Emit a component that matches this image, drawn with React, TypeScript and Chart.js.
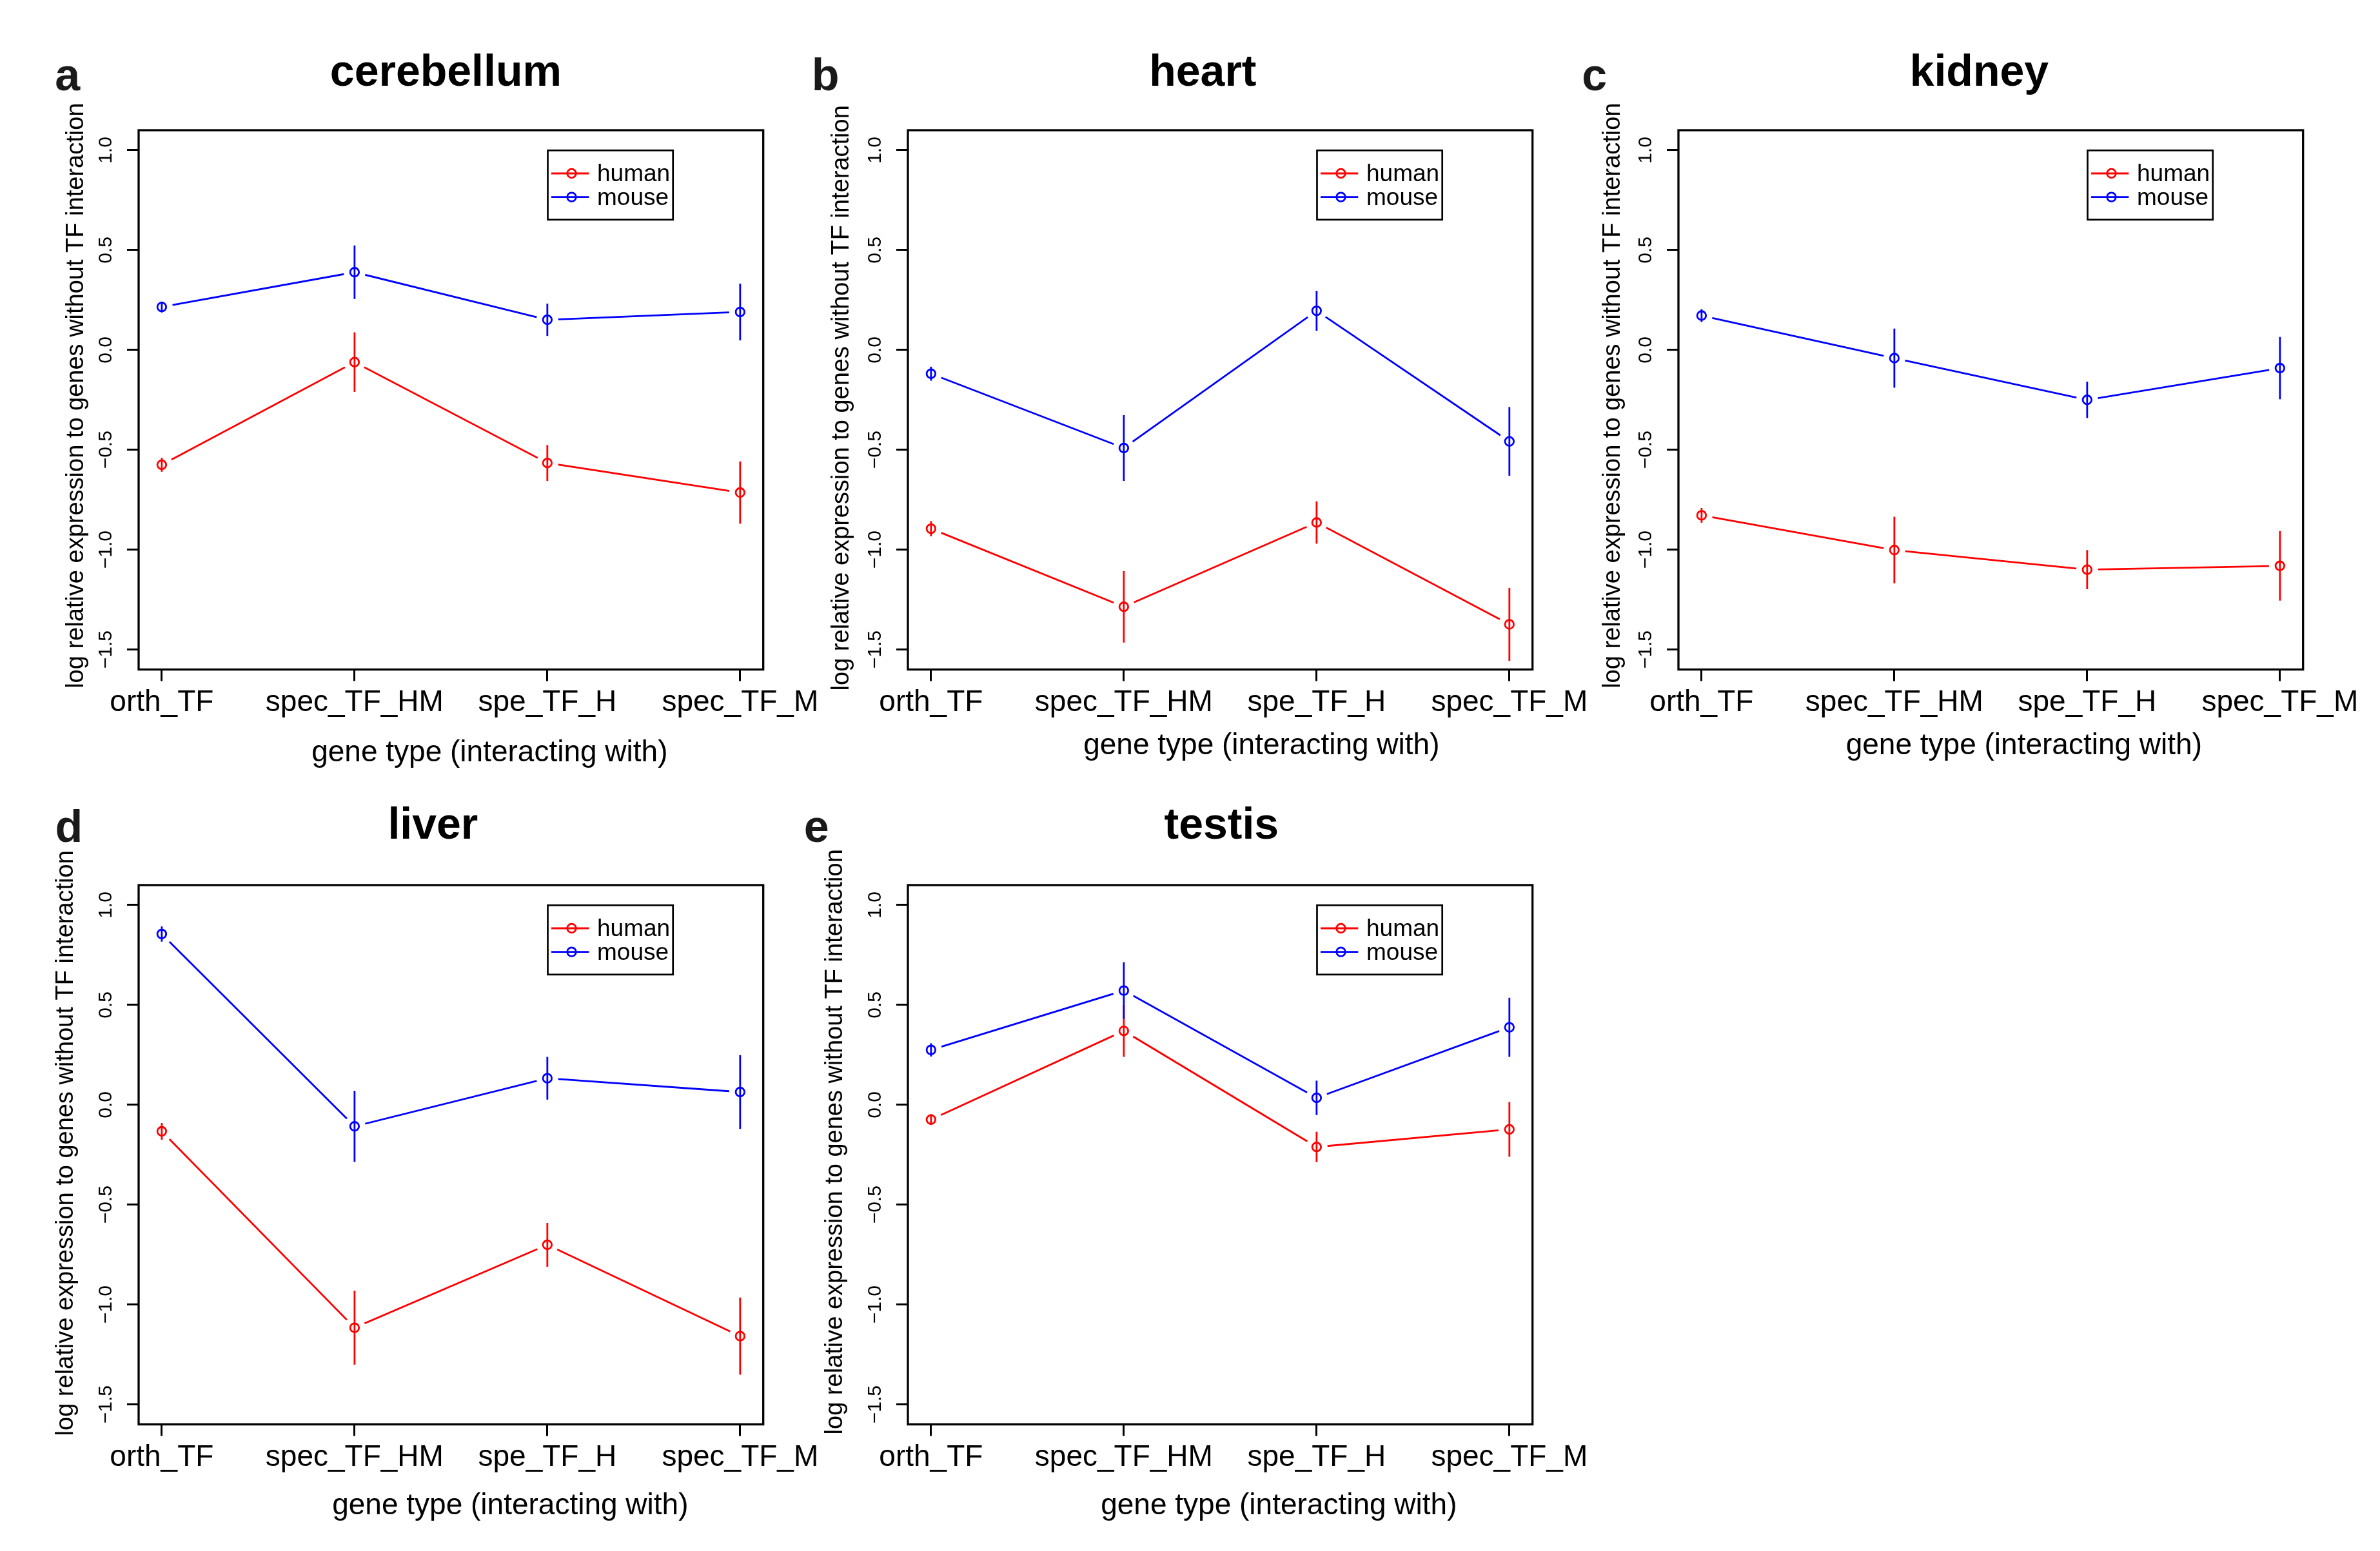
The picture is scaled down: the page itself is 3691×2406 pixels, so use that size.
import React, { useEffect, useRef } from "react";
import { Chart, registerables } from "chart.js";

Chart.register(...registerables);

// ---------- data ----------
const categories = ["orth_TF", "spec_TF_HM", "spe_TF_H", "spec_TF_M"];
const yTickValues = [-1.5, -1.0, -0.5, 0.0, 0.5, 1.0];
const yTickLabels = ["\u22121.5", "\u22121.0", "\u22120.5", "0.0", "0.5", "1.0"];
const seriesNames = ["human", "mouse"];
const xAxisTitle = "gene type (interacting with)";
const yAxisTitle = "log relative expression to genes without TF interaction";

const cerebellumHuman = [-0.575, -0.061, -0.566, -0.714];
const cerebellumHumanErr = [0.035, 0.149, 0.09, 0.156];
const cerebellumMouse = [0.215, 0.389, 0.151, 0.19];
const cerebellumMouseErr = [0.027, 0.134, 0.081, 0.142];

const heartHuman = [-0.895, -1.286, -0.864, -1.374];
const heartHumanErr = [0.038, 0.179, 0.106, 0.183];
const heartMouse = [-0.119, -0.491, 0.196, -0.458];
const heartMouseErr = [0.035, 0.165, 0.1, 0.172];

const kidneyHuman = [-0.828, -1.002, -1.1, -1.081];
const kidneyHumanErr = [0.037, 0.167, 0.098, 0.174];
const kidneyMouse = [0.172, -0.041, -0.25, -0.091];
const kidneyMouseErr = [0.032, 0.148, 0.091, 0.156];

const liverHuman = [-0.133, -1.116, -0.701, -1.158];
const liverHumanErr = [0.042, 0.185, 0.11, 0.193];
const liverMouse = [0.855, -0.108, 0.133, 0.064];
const liverMouseErr = [0.038, 0.178, 0.107, 0.185];

const testisHuman = [-0.074, 0.37, -0.211, -0.123];
const testisHumanErr = [0.027, 0.13, 0.076, 0.137];
const testisMouse = [0.275, 0.572, 0.035, 0.388];
const testisMouseErr = [0.033, 0.142, 0.086, 0.148];

// ---------- layout / style ----------
const FONT = '"Liberation Sans", Arial, Helvetica, sans-serif';
const RED = "#ff0000";
const BLUE = "#0000ff";
const CW = 1330;
const CH = 1240;
const AREA_L = 215;
const AREA_T = 202;
const AREA_W = 968.7;
const AREA_H = 836.6;
const LW = 2.8;

const panels = [
  { letter: "a", title: "cerebellum", human: cerebellumHuman, humanErr: cerebellumHumanErr, mouse: cerebellumMouse, mouseErr: cerebellumMouseErr,
    left: 0, top: 0, titleDx: -8, titleRise: 69.2, letterDx: 129.7, letterRise: 61.8, yTitleDx: 96, yTitleDy: -6.6, xTitleDx: 60, xTitleDrop: 142.7 },
  { letter: "b", title: "heart", human: heartHuman, humanErr: heartHumanErr, mouse: heartMouse, mouseErr: heartMouseErr,
    left: 1193.4, top: 0, titleDx: -27, titleRise: 69.2, letterDx: 149.3, letterRise: 61.9, yTitleDx: 102, yTitleDy: -3, xTitleDx: 64, xTitleDrop: 131.5 },
  { letter: "c", title: "kidney", human: kidneyHuman, humanErr: kidneyHumanErr, mouse: kidneyMouse, mouseErr: kidneyMouseErr,
    left: 2387.8, top: 0, titleDx: -18, titleRise: 69.2, letterDx: 149.8, letterRise: 61.8, yTitleDx: 101, yTitleDy: -6.6, xTitleDx: 51.5, xTitleDrop: 131.5 },
  { letter: "d", title: "liver", human: liverHuman, humanErr: liverHumanErr, mouse: liverMouse, mouseErr: liverMouseErr,
    left: 0, top: 1170.5, titleDx: -28, titleRise: 72.5, letterDx: 129.6, letterRise: 67.2, yTitleDx: 112.5, yTitleDy: -18, xTitleDx: 92, xTitleDrop: 139 },
  { letter: "e", title: "testis", human: testisHuman, humanErr: testisHumanErr, mouse: testisMouse, mouseErr: testisMouseErr,
    left: 1193.4, top: 1170.5, titleDx: 2, titleRise: 72.5, letterDx: 161.3, letterRise: 67.2, yTitleDx: 112, yTitleDy: -20, xTitleDx: 91, xTitleDrop: 139 },
];

function toPoints(vals: number[]) {
  return vals.map((v, i) => ({ x: i + 1, y: v }));
}

function makeDecor(p: any) {
  return {
    id: "decor_" + p.letter,
    afterDatasetsDraw(chart: any) {
      const ctx = chart.ctx;
      const xs = chart.scales.x;
      const ys = chart.scales.y;
      const series: [number[], number[], string][] = [
        [p.human, p.humanErr, RED],
        [p.mouse, p.mouseErr, BLUE],
      ];
      ctx.save();
      ctx.lineWidth = LW;
      ctx.lineCap = "butt";
      for (const [m, e, c] of series) {
        ctx.strokeStyle = c;
        m.forEach((v, i) => {
          const x = xs.getPixelForValue(i + 1);
          ctx.beginPath();
          ctx.moveTo(x, ys.getPixelForValue(v + e[i]));
          ctx.lineTo(x, ys.getPixelForValue(v - e[i]));
          ctx.stroke();
        });
      }
      ctx.restore();
    },
    afterDraw(chart: any) {
      const ctx = chart.ctx;
      const a = chart.chartArea;
      const ys = chart.scales.y;
      const cx = (a.left + a.right) / 2;
      const cy = (a.top + a.bottom) / 2;
      ctx.save();
      // box
      ctx.strokeStyle = "#000";
      ctx.lineWidth = 3.3;
      ctx.strokeRect(a.left, a.top, a.right - a.left, a.bottom - a.top);

      // y tick labels (rotated, like R)
      ctx.fillStyle = "#000";
      ctx.font = `30px ${FONT}`;
      ctx.textAlign = "center";
      ctx.textBaseline = "alphabetic";
      yTickValues.forEach((v, i) => {
        const y = ys.getPixelForValue(v);
        ctx.save();
        ctx.translate(a.left - 42.3, y);
        ctx.rotate(-Math.PI / 2);
        ctx.fillText(yTickLabels[i], 0, 0);
        ctx.restore();
      });

      // y axis title
      ctx.font = `38px ${FONT}`;
      ctx.save();
      ctx.translate(a.left - p.yTitleDx + 10, cy + p.yTitleDy);
      ctx.rotate(-Math.PI / 2);
      ctx.textAlign = "center";
      ctx.fillText(yAxisTitle, 0, 0);
      ctx.restore();

      // x axis title
      ctx.font = `46px ${FONT}`;
      ctx.textAlign = "center";
      ctx.fillText(xAxisTitle, cx + p.xTitleDx, a.bottom + p.xTitleDrop);

      // main title
      ctx.font = `bold 68px ${FONT}`;
      ctx.fillText(p.title, cx + p.titleDx, a.top - p.titleRise);

      // panel letter
      ctx.fillStyle = "#1a1a1a";
      ctx.font = `bold 70px ${FONT}`;
      ctx.textAlign = "left";
      ctx.fillText(p.letter, a.left - p.letterDx, a.top - p.letterRise);

      // legend
      const lx = a.left + 634.5;
      const ly = a.top + 31.3;
      ctx.strokeStyle = "#000";
      ctx.lineWidth = 2.7;
      ctx.fillStyle = "#fff";
      ctx.fillRect(lx, ly, 194.2, 107.5);
      ctx.strokeRect(lx, ly, 194.2, 107.5);
      const colors = [RED, BLUE];
      seriesNames.forEach((name, i) => {
        const ry = a.top + 67 + i * 36.6;
        ctx.strokeStyle = colors[i];
        ctx.lineWidth = LW;
        ctx.beginPath();
        ctx.moveTo(a.left + 640, ry);
        ctx.lineTo(a.left + 698.3, ry);
        ctx.stroke();
        ctx.beginPath();
        ctx.arc(a.left + 671.5, ry, 6.8, 0, Math.PI * 2);
        ctx.stroke();
        ctx.fillStyle = "#000";
        ctx.font = `37px ${FONT}`;
        ctx.textAlign = "left";
        ctx.fillText(name, a.left + 711, ry + 12.3);
      });
      ctx.restore();
    },
  };
}

function buildConfig(p: any): any {
  const lineDs = (label: string, vals: number[], color: string, order: number) => ({
    label,
    data: toPoints(vals),
    borderColor: color,
    borderWidth: LW,
    pointRadius: 0,
    showLine: true,
    fill: false,
    tension: 0,
    order,
  });
  const gapDs = (label: string, vals: number[], order: number) => ({
    label,
    data: toPoints(vals),
    showLine: false,
    pointRadius: 17,
    pointStyle: "circle",
    pointBackgroundColor: "#ffffff",
    pointBorderColor: "#ffffff",
    pointBorderWidth: 0,
    order,
  });
  const circleDs = (label: string, vals: number[], color: string, order: number) => ({
    label,
    data: toPoints(vals),
    showLine: false,
    pointRadius: 6.8,
    pointStyle: "circle",
    pointBackgroundColor: "rgba(0,0,0,0)",
    pointBorderColor: color,
    pointBorderWidth: LW,
    order,
  });
  const gridOpts = {
    display: true,
    drawOnChartArea: false,
    drawTicks: true,
    tickLength: 18,
    tickWidth: 3,
    tickColor: "#000",
    color: "#000",
    lineWidth: 3,
  };
  return {
    type: "line",
    data: {
      datasets: [
        lineDs(seriesNames[0], p.human, RED, 6),
        lineDs(seriesNames[1], p.mouse, BLUE, 5),
        gapDs(seriesNames[0], p.human, 4),
        gapDs(seriesNames[1], p.mouse, 3),
        circleDs(seriesNames[0], p.human, RED, 2),
        circleDs(seriesNames[1], p.mouse, BLUE, 1),
      ],
    },
    options: {
      responsive: false,
      animation: false,
      devicePixelRatio: 1,
      events: [],
      layout: { padding: { left: 0, top: AREA_T, right: CW - AREA_L - AREA_W, bottom: 0 } },
      plugins: {
        legend: { display: false },
        title: { display: false },
        tooltip: { enabled: false },
      },
      scales: {
        x: {
          type: "linear",
          position: "bottom",
          min: 0.88,
          max: 4.12,
          afterBuildTicks: (s: any) => {
            s.ticks = categories.map((_, i) => ({ value: i + 1 }));
          },
          afterFit: (s: any) => {
            s.height = CH - AREA_T - AREA_H;
          },
          ticks: {
            autoSkip: false,
            minRotation: 0,
            maxRotation: 0,
            padding: 6,
            color: "#000",
            font: { family: FONT, size: 46 },
            callback: (v: number) => categories[Math.round(v) - 1] ?? "",
          },
          grid: gridOpts,
          border: { display: false },
        },
        y: {
          type: "linear",
          position: "left",
          min: -1.6,
          max: 1.1,
          afterBuildTicks: (s: any) => {
            s.ticks = yTickValues.map((v) => ({ value: v }));
          },
          afterFit: (s: any) => {
            s.width = AREA_L;
          },
          ticks: { display: false },
          grid: gridOpts,
          border: { display: false },
        },
      },
    },
    plugins: [makeDecor(p)],
  };
}

function Panel({ p }: { p: any }) {
  const ref = useRef<HTMLCanvasElement | null>(null);
  useEffect(() => {
    if (!ref.current) return;
    const chart = new Chart(ref.current, buildConfig(p));
    return () => chart.destroy();
  }, [p]);
  return (
    <canvas
      ref={ref}
      width={CW}
      height={CH}
      style={{ position: "absolute", left: p.left, top: p.top, width: CW, height: CH }}
    />
  );
}

export default function App() {
  return (
    <div
      style={{
        position: "absolute",
        left: 0,
        top: 0,
        width: 3691,
        height: 2406,
        overflow: "hidden",
        background: "#ffffff",
      }}
    >
      {panels.map((p) => (
        <Panel key={p.letter} p={p} />
      ))}
    </div>
  );
}
